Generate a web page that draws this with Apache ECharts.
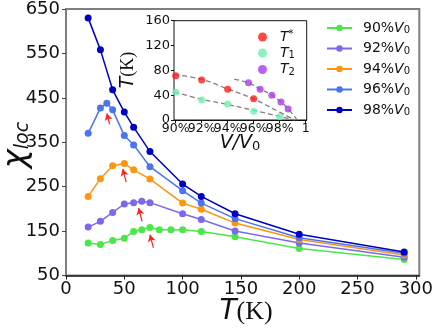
<!DOCTYPE html>
<html>
<head>
<meta charset="utf-8">
<script src="https://cdn.jsdelivr.net/npm/echarts@6/dist/echarts.min.js"></script>
<style>
  html, body { margin: 0; padding: 0; background: #fff; }
  #chart { width: 436px; height: 328px; }
</style>
</head>
<body>
<div id="chart"></div>
<script>
// main panel: chi_loc vs T for each volume
var seriesNames = ['90%', '92%', '94%', '96%', '98%'];
var seriesColors = ['#48e848', '#7b68ee', '#fd960f', '#4a74f0', '#0000c0'];

var temps90 = [19, 29.5, 40, 50, 58, 65, 72, 80, 90, 100, 116, 145, 200, 290];
var chi90   = [123, 120, 129, 134, 149, 153, 158, 153, 153, 153, 149, 137, 111, 86];
var temps92 = [19, 29.5, 40, 50, 58, 65, 72, 100, 116, 145, 200, 290];
var chi92   = [159, 172, 192, 211, 214, 217, 214, 189, 176, 150, 123, 91];
var temps94 = [19, 29.5, 40, 50, 58, 72, 100, 116, 145, 200, 290];
var chi94   = [228, 268, 297, 302, 288, 267, 213, 199, 168, 131, 96];
var temps96 = [19, 29.5, 35, 40, 50, 58, 72, 100, 116, 145, 200, 290];
var chi96   = [370, 427, 438, 423, 365, 344, 295, 241, 213, 178, 135, 100];
var temps98 = [19, 29.5, 40, 50, 58, 72, 100, 116, 145, 200, 290];
var chi98   = [630, 558, 468, 418, 384, 329, 256, 228, 189, 143, 103];

var xTicks = [0, 50, 100, 150, 200, 250, 300];

// red arrows marking the peaks: [T, chi] tail -> head
var arrowTails = [[37.4, 390], [51.6, 260], [65.2, 172], [75, 112]];
var arrowHeads = [[35.1, 415], [48.7, 290], [62.3, 202], [72, 142]];

// inset: characteristic temperatures vs V/V0
var tStarV = [0.90, 0.92, 0.94, 0.96];
var tStarT = [71.4, 64.5, 49.4, 34.4];
var t1V = [0.90, 0.92, 0.94, 0.96, 0.98];
var t1T = [44.6, 32.2, 25.8, 14, 5.4];
var t2V = [0.956, 0.965, 0.974, 0.981, 0.9865];
var t2T = [60.1, 49.4, 39.8, 29, 17.7];

// dashed guide curves
var fitStarV = [0.899, 0.92, 0.94, 0.96, 0.975, 0.9915];
var fitStarT = [73, 65.5, 50, 34, 18, 0];
var fitOneV = [0.899, 0.92, 0.94, 0.96, 0.98, 0.9915];
var fitOneT = [45, 33.5, 25, 15.5, 5.8, 0];
var fitTwoV = [0.945, 0.956, 0.965, 0.974, 0.981, 0.9865, 0.9935];
var fitTwoT = [66, 60, 50, 40, 29, 18, 0];

var insetTicks = [0.90, 0.92, 0.94, 0.96, 0.98, 1.0];
// labels split over two axes so neighbouring labels are not dropped
var insetLabelsA = [0.90, 0.94, 0.98];
var insetLabelsB = [0.92, 0.96, 1.0];

function pairs(xs, ys) {
  return xs.map(function(x, i) { return [x, ys[i]]; });
}

function pctLabel(v) {
  return v >= 0.999 ? '1' : Math.round(v * 100) + '%';
}

var mainTemps = [temps90, temps92, temps94, temps96, temps98];
var mainChi = [chi90, chi92, chi94, chi96, chi98];

var series = [];
seriesNames.forEach(function(name, i) {
  series.push({
    name: name,
    type: 'line',
    xAxisIndex: 0,
    yAxisIndex: 0,
    data: pairs(mainTemps[i], mainChi[i]),
    symbol: 'circle',
    symbolSize: 7,
    color: seriesColors[i],
    lineStyle: { width: 1.5 },
    z: 3 + i
  });
});

// arrows
series.push({
  type: 'line',
  xAxisIndex: 0,
  yAxisIndex: 0,
  data: [],
  silent: true,
  markLine: {
    silent: true,
    symbol: ['none', 'arrow'],
    symbolSize: [6, 7],
    label: { show: false },
    lineStyle: { color: '#ff2020', width: 1.2, type: 'solid' },
    data: arrowTails.map(function(t, i) {
      return [{ coord: t }, { coord: arrowHeads[i] }];
    })
  }
});

// inset dashed guides
[[fitStarV, fitStarT], [fitOneV, fitOneT], [fitTwoV, fitTwoT]].forEach(function(f) {
  series.push({
    type: 'line',
    xAxisIndex: 1,
    yAxisIndex: 1,
    data: pairs(f[0], f[1]),
    smooth: 0.4,
    showSymbol: false,
    silent: true,
    lineStyle: { color: '#808080', width: 1.3, type: [5, 3] },
    z: 2
  });
});

var insetNames = ['star', 'one', 'two'];
var insetColors = ['#ff1a1a', '#6ff0b0', '#a83be8'];
var insetData = [pairs(tStarV, tStarT), pairs(t1V, t1T), pairs(t2V, t2T)];
insetNames.forEach(function(n, i) {
  series.push({
    name: n,
    type: 'scatter',
    xAxisIndex: 1,
    yAxisIndex: 1,
    data: insetData[i],
    symbolSize: 7,
    color: insetColors[i],
    z: 4
  });
});

var chart = echarts.init(document.getElementById('chart'));

var option = {
  animation: false,
  backgroundColor: '#fff',
  textStyle: { fontFamily: 'DejaVu Sans' },
  grid: [
    { left: 66, right: 13, top: 7, bottom: 52.5, show: true, borderColor: '#7f7f7f', borderWidth: 2 },
    { left: 174, right: 129.3, top: 20.7, bottom: 208, show: true, borderColor: '#111', borderWidth: 1, backgroundColor: '#fff', z: 1 }
  ],
  xAxis: [
    {
      type: 'value', gridIndex: 0, min: 0, max: 303,
      splitLine: { show: false },
      axisLine: { lineStyle: { color: '#222', width: 1.5 } },
      axisTick: { length: 4, lineStyle: { color: '#222' }, customValues: xTicks },
      axisLabel: { fontSize: 18, color: '#111', margin: 5, customValues: xTicks }
    },
    {
      type: 'value', gridIndex: 1, min: 0.8987, max: 1.0008, position: 'bottom',
      splitLine: { show: false },
      axisLine: { lineStyle: { color: '#111', width: 1 } },
      axisTick: { length: 3, lineStyle: { color: '#111' }, customValues: insetTicks },
      axisLabel: {
        fontSize: 12.5, color: '#111', margin: 2, customValues: insetLabelsA,
        showMinLabel: true, hideOverlap: false, formatter: pctLabel
      }
    },
    {
      type: 'value', gridIndex: 1, min: 0.8987, max: 1.0008, position: 'bottom', offset: 0,
      splitLine: { show: false },
      axisLine: { show: false },
      axisTick: { show: false },
      axisLabel: {
        fontSize: 12.5, color: '#111', margin: 2, customValues: insetLabelsB,
        showMaxLabel: true, hideOverlap: false, formatter: pctLabel
      }
    }
  ],
  yAxis: [
    {
      type: 'value', gridIndex: 0, min: 50, max: 650, interval: 100,
      splitLine: { show: false },
      axisLine: { show: false },
      axisTick: { length: 4, lineStyle: { color: '#444' } },
      axisLabel: { fontSize: 18, color: '#111', margin: 6 }
    },
    {
      type: 'value', gridIndex: 1, min: 0, max: 160, interval: 40,
      splitLine: { show: false },
      axisLine: { lineStyle: { color: '#111', width: 1 } },
      axisTick: { length: 3, lineStyle: { color: '#111' } },
      axisLabel: { fontSize: 13, color: '#111', margin: 4 }
    }
  ],
  legend: [
    {
      data: seriesNames,
      orient: 'vertical',
      left: 321,
      top: 16,
      itemWidth: 25,
      itemHeight: 8,
      itemGap: 6,
      formatter: function(name) { return '{n|' + name + '}{v|V}{s|0}'; },
      textStyle: {
        rich: {
          n: { fontSize: 14, color: '#111', padding: [0, 0, 0, 6] },
          v: { fontSize: 14, color: '#111', fontStyle: 'italic' },
          s: { fontSize: 10, color: '#111', padding: [5, 0, 0, 0] }
        }
      }
    },
    {
      data: insetNames,
      orient: 'vertical',
      left: 253,
      top: 24,
      itemWidth: 9,
      itemHeight: 9,
      itemGap: 2,
      icon: 'circle',
      formatter: function(name) {
        if (name === 'star') return '{t|T}{p|*}';
        if (name === 'one') return '{t|T}{s|1}';
        return '{t|T}{s|2}';
      },
      textStyle: {
        rich: {
          t: { fontSize: 14, color: '#111', fontStyle: 'italic', padding: [0, 0, 0, 8] },
          p: { fontSize: 10, color: '#111', padding: [0, 0, 6, 0] },
          s: { fontSize: 10, color: '#111', padding: [5, 0, 0, 0] }
        }
      }
    }
  ],
  graphic: [
    {
      type: 'text',
      x: 246, y: 312,
      style: {
        text: '{t|T}{k|(K)}',
        align: 'center', verticalAlign: 'middle',
        rich: {
          t: { fontSize: 28, fontStyle: 'italic', fontFamily: 'DejaVu Sans', fill: '#111' },
          k: { fontSize: 26, fontFamily: 'Liberation Serif', fill: '#111' }
        }
      }
    },
    {
      type: 'text',
      x: 17, y: 145,
      rotation: Math.PI / 2,
      style: {
        text: '{c|χ}{s|loc}',
        align: 'center', verticalAlign: 'middle',
        rich: {
          c: { fontSize: 32, fontStyle: 'italic', fontFamily: 'DejaVu Sans', fill: '#111' },
          s: { fontSize: 19, fontStyle: 'italic', fontFamily: 'DejaVu Sans', fill: '#111', padding: [12, 0, 0, 0] }
        }
      }
    },
    {
      type: 'text',
      x: 128, y: 70,
      rotation: Math.PI / 2,
      style: {
        text: '{t|T}{k|(K)}',
        align: 'center', verticalAlign: 'middle',
        rich: {
          t: { fontSize: 19, fontStyle: 'italic', fontFamily: 'DejaVu Sans', fill: '#111' },
          k: { fontSize: 18, fontFamily: 'Liberation Serif', fill: '#111' }
        }
      }
    },
    {
      type: 'text',
      x: 240, y: 143,
      style: {
        text: '{v|V/V}{s|0}',
        align: 'center', verticalAlign: 'middle',
        rich: {
          v: { fontSize: 19, fontStyle: 'italic', fontFamily: 'DejaVu Sans', fill: '#111' },
          s: { fontSize: 13, fontFamily: 'DejaVu Sans', fill: '#111', padding: [8, 0, 0, 0] }
        }
      }
    }
  ],
  series: series
};

chart.setOption(option);
</script>
</body>
</html>
